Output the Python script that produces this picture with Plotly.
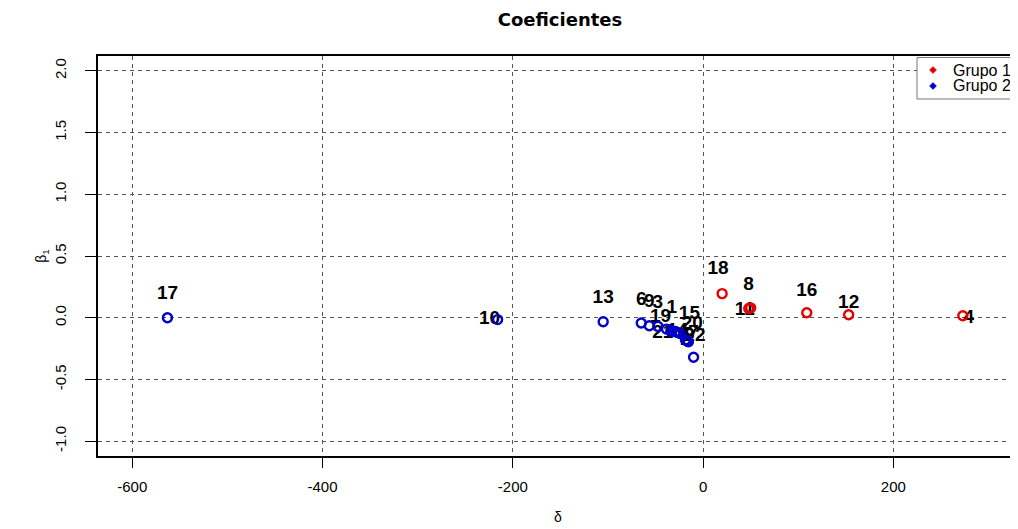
import plotly.graph_objects as go

# ---- data ----
g1_ids = ["18", "8", "11", "16", "12", "4"]
g1_delta = [20, 50, 48, 109, 153, 273]
g1_beta = [0.195, 0.08, 0.075, 0.04, 0.024, 0.016]

g2_ids = ["17", "10", "13", "6", "9", "3", "19", "1", "15", "20", "14", "21", "22", "2", "5", "7"]
g2_delta = [-563, -216, -105, -65, -56.5, -47.5, -38.5, -33, -27, -24, -29, -34, -17, -18.5, -15.5, -10]
g2_beta = [0.0, -0.015, -0.032, -0.043, -0.065, -0.07, -0.092, -0.105, -0.12, -0.128, -0.112, -0.11, -0.186, -0.18, -0.195, -0.32]

legend_names = ["Grupo 1", "Grupo 2"]

# label offsets in pixels (dx, dy up) – style only
g1_lab_off = [(-4, 24), (-2, 23), (-4, -2), (0, 22), (0, 12), (6, -2)]
g2_lab_off = [(0, 23), (-8, 0), (0, 23), (0, 23), (0, 24), (0, 23), (-6, 12), (0, 22),
              (12, 18), (12, 9), (2, 0), (-8, -2), (8, 4), (0, 0), (0, 0), (0, 24)]

x_ticks = [-600, -400, -200, 0, 200]
y_ticks = [-1.0, -0.5, 0.0, 0.5, 1.0, 1.5, 2.0]

# ---- layout geometry (page body has an 8px margin, so compensate) ----
OFF = 8
W, H = 1018 - OFF, 529 - OFF
ML, MR, MT = 98 - OFF, 0, 56 - OFF
MB = H - (456 - OFF)
PW, PH = W - ML - MR, H - MT - MB
xr = [-636, 331]
yr = [-1.12, 2.12]
pxx = PW / (xr[1] - xr[0])
pxy = PH / (yr[1] - yr[0])

RED = "#e60000"
BLUE = "#0000c8"
FONT = "Liberation Sans"
colors = [RED, BLUE]

fig = go.Figure()

def lab_pos(xs, ys, offs):
    lx = [x + o[0] / pxx for x, o in zip(xs, offs)]
    ly = [y + o[1] / pxy for y, o in zip(ys, offs)]
    return lx, ly

lx1, ly1 = lab_pos(g1_delta, g1_beta, g1_lab_off)
lx2, ly2 = lab_pos(g2_delta, g2_beta, g2_lab_off)

fig.add_trace(go.Scatter(
    x=lx1 + lx2, y=ly1 + ly2, text=g1_ids + g2_ids, mode="text",
    textposition="middle center",
    textfont=dict(family=FONT, size=19, color="black", weight="bold"),
    showlegend=False, hoverinfo="skip", cliponaxis=False))

fig.add_trace(go.Scatter(
    x=g1_delta, y=g1_beta, mode="markers", showlegend=False, name=legend_names[0],
    marker=dict(symbol="circle-open", size=9, color=RED, line=dict(width=2.4, color=RED))))
fig.add_trace(go.Scatter(
    x=g2_delta, y=g2_beta, mode="markers", showlegend=False, name=legend_names[1],
    marker=dict(symbol="circle-open", size=9, color=BLUE, line=dict(width=2.4, color=BLUE))))

# ---- manual legend box (screen pixel positions -> paper coords) ----
def px2paper_x(px):
    return (px - OFF - ML) / PW

def px2paper_y(py):
    return 1 - (py - OFF - MT) / PH

shapes = [dict(type="rect", xref="paper", yref="paper",
               x0=px2paper_x(917), x1=px2paper_x(1015),
               y0=px2paper_y(99), y1=px2paper_y(57.5),
               line=dict(color="#777777", width=1), fillcolor="white", layer="above")]
annotations = []
for i, (nm, col) in enumerate(zip(legend_names, colors)):
    cy = 70 + 16 * i
    cx = 933
    r = 3.5
    path = (f"M {px2paper_x(cx)} {px2paper_y(cy - r)} L {px2paper_x(cx + r)} {px2paper_y(cy)} "
            f"L {px2paper_x(cx)} {px2paper_y(cy + r)} L {px2paper_x(cx - r)} {px2paper_y(cy)} Z")
    shapes.append(dict(type="path", xref="paper", yref="paper", path=path,
                       fillcolor=col, line=dict(color=col, width=0.5), layer="above"))
    annotations.append(dict(text=nm, xref="paper", yref="paper",
                            x=px2paper_x(951), y=px2paper_y(cy), xanchor="left", yanchor="middle",
                            showarrow=False, font=dict(family=FONT, size=16, color="black")))

grid = dict(showgrid=True, gridcolor="#555555", griddash="4px,4px", gridwidth=1, zeroline=False)

fig.update_layout(
    width=W, height=H,
    margin=dict(l=ML, r=MR, t=MT, b=MB, autoexpand=False),
    paper_bgcolor="white", plot_bgcolor="white",
    font=dict(family=FONT, size=15, color="black"),
    showlegend=False,
    shapes=shapes, annotations=annotations,
    title=dict(text="<b>Coeficientes</b>", x=(560 - OFF) / W, xanchor="center", xref="container",
               y=1 - (20 - OFF) / H, yanchor="middle", yref="container",
               font=dict(family="DejaVu Sans", size=18, color="black")),
    xaxis=dict(range=xr, tickvals=x_ticks, ticktext=[str(v) for v in x_ticks],
               showline=True, linecolor="black", linewidth=1.5, mirror=True,
               ticks="outside", ticklen=10, tickwidth=1.3, tickcolor="black",
               ticklabelstandoff=6, automargin=False,
               tickfont=dict(size=15),
               title=dict(text="δ", standoff=18, font=dict(size=14)), **grid),
    yaxis=dict(range=yr, tickvals=y_ticks, ticktext=[f"{v:.1f}" for v in y_ticks],
               showline=True, linecolor="black", linewidth=1.5,
               ticks="outside", ticklen=11, tickwidth=1.3, tickcolor="black",
               tickangle=-90, ticklabelstandoff=13, automargin=False,
               tickfont=dict(size=15),
               title=dict(text="β<sub>1</sub>", standoff=2, font=dict(size=14)), **grid),
)

fig.write_html("out.html")
